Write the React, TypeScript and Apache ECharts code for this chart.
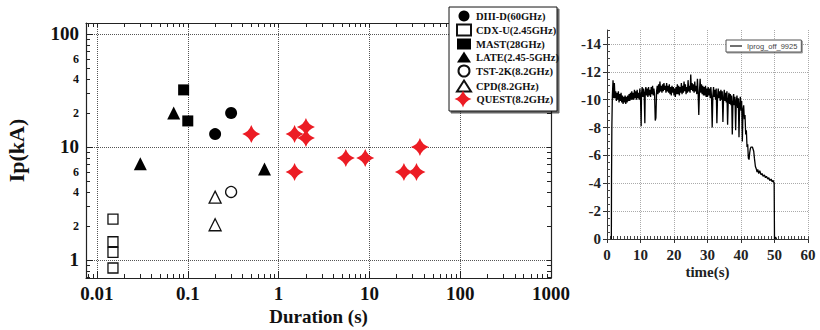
import React, { useEffect, useRef } from 'react';
import * as echarts from 'echarts';

const SERIF = "'Liberation Serif', 'Times New Roman', serif";
const SANS = "'Liberation Sans', Arial, sans-serif";

// ---------- Left chart data (Duration s, Ip kA) ----------
const diiidPoints = [[0.2, 13], [0.3, 20]];
const cdxuPoints = [[0.015, 2.3], [0.015, 1.45], [0.015, 1.17], [0.015, 0.85]];
const mastPoints = [[0.09, 32], [0.1, 17]];
const latePoints = [[0.03, 7.1], [0.07, 20], [0.7, 6.4]];
const tst2kPoints = [[0.3, 4]];
const cpdPoints = [[0.2, 3.6], [0.2, 2.05]];
const questPoints = [[0.5, 13], [1.5, 13], [1.5, 6], [2, 15], [2, 12], [5.5, 8], [9, 8], [24, 6], [33, 6], [36, 10]];

const durTickValues = [0.01, 0.1, 1, 10, 100, 1000];
const durTickLabels = ['0.01', '0.1', '1', '10', '100', '1000'];
const ipTickValues = [1, 2, 4, 6, 10, 20, 40, 60, 100];
const ipTickLabels = ['1', '2', '4', '6', '10', '2', '4', '6', '100'];
const ipBigLabels = ['1', '10', '100'];

// ---------- Right chart data (time s, Iprog) ----------
const timeTicks = [0, 10, 20, 30, 40, 50, 60];
const iprogTicks = [-14, -12, -10, -8, -6, -4, -2, 0];
const iprogTrace = [
  [1.3, 0], [1.35, -4.3], [1.45, -8], [1.6, -10.3], [1.8, -11.4], [2.0, -10.1], [2.2, -11.2], [2.4, -10.1],
  [2.6, -10.6], [2.8, -9.9], [3.0, -10.5], [3.2, -10.0], [3.4, -10.6], [3.6, -9.8], [3.8, -10.4], [4.0, -9.9],
  [4.2, -10.5], [4.4, -9.8], [4.6, -10.3], [4.8, -9.7], [5.0, -10.2], [5.2, -9.8], [5.4, -10.3], [5.6, -9.7],
  [5.8, -10.2], [6.0, -9.8], [6.2, -10.3], [6.4, -9.9], [6.6, -10.4], [6.8, -9.9], [7.0, -10.5], [7.2, -10.0],
  [7.4, -10.6], [7.6, -10.0], [7.8, -10.5], [8.0, -10.0], [8.2, -10.7], [8.4, -10.1], [8.6, -10.6], [8.8, -10.0],
  [9.0, -10.7], [9.2, -10.1], [9.4, -10.5], [9.6, -10.0], [9.8, -10.8], [10.0, -10.2], [10.2, -8.1], [10.3, -10.4],
  [10.5, -10.9], [10.7, -10.2], [10.9, -10.8], [11.1, -10.3], [11.3, -8.3], [11.4, -10.5], [11.6, -10.9], [11.8, -10.3],
  [12.0, -10.8], [12.2, -10.2], [12.4, -10.9], [12.6, -10.3], [12.8, -10.7], [13.0, -10.2], [13.2, -10.9], [13.4, -10.4],
  [13.6, -11.0], [13.8, -10.3], [14.0, -10.8], [14.2, -10.4], [14.4, -8.5], [14.6, -8.7], [14.8, -10.6], [15.0, -11.0],
  [15.2, -10.4], [15.4, -11.1], [15.6, -10.5], [15.8, -11.3], [16.0, -10.6], [16.2, -11.0], [16.4, -10.5], [16.6, -11.1],
  [16.8, -10.6], [17.0, -11.2], [17.2, -10.7], [17.4, -11.0], [17.6, -10.5], [17.8, -11.2], [18.0, -10.6], [18.2, -11.0],
  [18.4, -10.5], [18.6, -11.1], [18.8, -10.4], [19.0, -10.9], [19.2, -10.3], [19.4, -11.0], [19.6, -10.5], [19.8, -10.9],
  [20.0, -10.3], [20.2, -10.8], [20.4, -10.2], [20.6, -10.9], [20.8, -10.4], [21.0, -11.1], [21.2, -10.4], [21.4, -11.0],
  [21.6, -10.3], [21.8, -10.9], [22.0, -10.5], [22.2, -11.2], [22.4, -10.4], [22.6, -11.0], [22.8, -10.5], [23.0, -11.3],
  [23.2, -10.6], [23.4, -11.1], [23.6, -10.4], [23.8, -10.9], [24.0, -10.5], [24.2, -11.4], [24.4, -10.6], [24.6, -11.0],
  [24.8, -10.5], [25.0, -11.8], [25.2, -10.7], [25.4, -11.2], [25.6, -10.6], [25.8, -11.1], [26.0, -10.5], [26.2, -11.3],
  [26.4, -10.6], [26.6, -11.0], [26.8, -10.4], [27.0, -11.5], [27.2, -10.5], [27.4, -8.9], [27.6, -10.6], [27.8, -11.5],
  [28.0, -10.5], [28.2, -11.1], [28.4, -10.4], [28.6, -11.0], [28.8, -10.3], [29.0, -10.9], [29.2, -10.3], [29.4, -11.0],
  [29.6, -10.2], [29.8, -10.8], [30.0, -10.2], [30.2, -10.9], [30.4, -10.3], [30.6, -10.8], [30.8, -10.1], [31.0, -10.9],
  [31.2, -10.2], [31.4, -8.0], [31.6, -10.3], [31.8, -10.9], [32.0, -10.2], [32.2, -10.7], [32.4, -10.0], [32.6, -10.8],
  [32.8, -8.3], [33.0, -10.2], [33.2, -10.8], [33.4, -10.1], [33.6, -10.6], [33.8, -9.9], [34.0, -10.7], [34.2, -10.0],
  [34.4, -10.6], [34.6, -8.4], [34.8, -10.1], [35.0, -10.7], [35.2, -9.9], [35.4, -10.5], [35.6, -9.8], [35.8, -10.6],
  [36.0, -8.2], [36.2, -10.0], [36.4, -10.5], [36.6, -9.7], [36.8, -10.4], [37.0, -9.6], [37.2, -10.3], [37.4, -7.5],
  [37.6, -9.8], [37.8, -10.4], [38.0, -9.6], [38.2, -10.2], [38.4, -7.8], [38.6, -9.9], [38.8, -10.3], [39.0, -9.4],
  [39.2, -10.1], [39.4, -7.3], [39.6, -9.7], [39.8, -10.2], [40.0, -9.2], [40.2, -9.9], [40.4, -7.0], [40.6, -9.3],
  [40.8, -9.6], [41.0, -8.6], [41.2, -8.9], [41.4, -7.5], [41.6, -7.8], [41.8, -6.6], [42.0, -6.8], [42.2, -5.8],
  [42.4, -5.7], [42.6, -6.2], [42.8, -6.5], [43.0, -6.6], [43.4, -6.6], [43.8, -6.3], [44.0, -5.8], [44.3, -5.2],
  [44.6, -5.0], [44.8, -4.8], [45.0, -5.0], [45.3, -4.7], [45.6, -4.9], [46.0, -4.6], [46.3, -4.7], [46.6, -4.5],
  [47.0, -4.6], [47.3, -4.4], [47.6, -4.5], [48.0, -4.3], [48.3, -4.4], [48.6, -4.2], [49.0, -4.3], [49.3, -4.1],
  [49.6, -4.2], [49.9, -4.0], [50.0, 0], [50.3, -0.15], [50.6, 0],
];

const X_MIN = 0.00757;
const X_MAX = 1000;
const Y_MIN = 0.693;
const Y_MAX = 125;

function logMinors(lo: number, hi: number) {
  const out: number[] = [];
  for (let e = -4; e <= 4; e++) {
    for (let m = 1; m <= 9; m++) {
      const v = m * Math.pow(10, e);
      if (v >= lo && v <= hi) out.push(v);
    }
  }
  return out;
}

function nearestIndex(vals: number[], v: number) {
  let best = 0;
  let bd = Infinity;
  vals.forEach((t, i) => {
    const d = Math.abs(Math.log10(t) - Math.log10(v));
    if (d < bd) { bd = d; best = i; }
  });
  return best;
}

const STAR = 'path://M0,-10 Q2.5,-2.5 10,0 Q2.5,2.5 0,10 Q-2.5,2.5 -10,0 Q-2.5,-2.5 0,-10 Z';

export default function App() {
  const ref = useRef<HTMLDivElement>(null);
  useEffect(() => {
    if (!ref.current) return;
    const chart = echarts.init(ref.current, undefined, { renderer: 'svg' });
    const xMinor = logMinors(X_MIN, X_MAX);
    const yMinor = logMinors(Y_MIN, Y_MAX);
    const frame = { show: true, onZero: false, lineStyle: { color: '#222', width: 1.2 } };
    const noLine = { show: false, onZero: false };
    const grid = { type: 'dotted', color: '#555', width: 1 };
    const tMinor: number[] = [];
    for (let t = 0; t <= 60; t += 1) tMinor.push(t);
    const iMinor: number[] = [];
    for (let v = -15; v <= 0; v += 0.5) iMinor.push(v);

    const legendText = { fontFamily: SERIF, fontWeight: 'bold', fontSize: 10.5, color: '#111' };
    const legendNames = ['DIII-D(60GHz)', 'CDX-U(2.45GHz)', 'MAST(28GHz)', 'LATE(2.45-5GHz)', 'TST-2K(8.2GHz)', 'CPD(8.2GHz)'];
    const solid = (c: string) => ({ color: c, opacity: 1 });
    const hollow = { color: '#fff', borderColor: '#111', borderWidth: 1.3, opacity: 1 };

    const option: any = {
      animation: false,
      backgroundColor: '#fff',
      grid: [
        { left: 86, top: 23, width: 465, height: 255, outerBoundsMode: 'none', containLabel: false },
        { left: 607, top: 30, width: 201, height: 209, outerBoundsMode: 'none', containLabel: false },
      ],
      xAxis: [
        {
          gridIndex: 0, type: 'log', min: X_MIN, max: X_MAX, position: 'bottom',
          axisLine: frame,
          axisTick: { inside: true, length: 7, lineStyle: { color: '#222' } },
          axisLabel: {
            customValues: durTickValues,
            formatter: (v: number) => durTickLabels[nearestIndex(durTickValues, v)],
            fontFamily: SERIF, fontWeight: 'bold', fontSize: 19, lineHeight: 17, color: '#111', margin: 7,
          },
          splitLine: { show: true, lineStyle: grid },
          name: 'Duration (s)', nameLocation: 'middle', nameGap: 29, nameMoveOverlap: false,
          nameTextStyle: { fontFamily: SERIF, fontWeight: 'bold', fontSize: 19, color: '#111', lineHeight: 19 },
        },
        {
          gridIndex: 0, type: 'log', min: X_MIN, max: X_MAX, position: 'bottom',
          axisLine: noLine,
          axisTick: { customValues: xMinor, inside: true, length: 4, lineStyle: { color: '#222' } },
          axisLabel: { show: false }, splitLine: { show: false },
        },
        {
          gridIndex: 0, type: 'log', min: X_MIN, max: X_MAX, position: 'top',
          axisLine: frame,
          axisTick: { customValues: xMinor, inside: true, length: 4, lineStyle: { color: '#222' } },
          axisLabel: { show: false }, splitLine: { show: false },
        },
        {
          gridIndex: 1, type: 'value', min: 0, max: 60, interval: 10, position: 'bottom',
          axisLine: { show: true, onZero: false, lineStyle: { color: '#333', width: 1 } },
          axisTick: { inside: false, length: 4, lineStyle: { color: '#333' } },
          axisLabel: {
            customValues: timeTicks,
            fontFamily: SERIF, fontWeight: 'bold', fontSize: 15, color: '#222', margin: 8,
          },
          splitLine: { show: true, lineStyle: { type: 'dotted', color: '#aaa', width: 1 } },
          name: 'time(s)', nameLocation: 'middle', nameGap: 25, nameMoveOverlap: false,
          nameTextStyle: { fontFamily: SERIF, fontWeight: 'bold', fontSize: 15, color: '#222' },
        },
        {
          gridIndex: 1, type: 'value', min: 0, max: 60, position: 'bottom',
          axisLine: noLine,
          axisTick: { customValues: tMinor, inside: true, length: 3, lineStyle: { color: '#444' } },
          axisLabel: { show: false }, splitLine: { show: false },
        },
      ],
      yAxis: [
        {
          gridIndex: 0, type: 'log', min: Y_MIN, max: Y_MAX, position: 'left',
          axisLine: frame,
          axisTick: { inside: true, length: 7, lineStyle: { color: '#222' } },
          axisLabel: {
            customValues: ipTickValues,
            formatter: (v: number) => {
              const lab = ipTickLabels[nearestIndex(ipTickValues, v)];
              const isDecade = Math.abs(Math.log10(v) - Math.round(Math.log10(v))) < 0.01;
              return ipBigLabels.includes(lab) && isDecade ? `{b|${lab}}` : `{s|${lab}}`;
            },
            margin: 7,
            rich: {
              b: { fontFamily: SERIF, fontWeight: 'bold', fontSize: 19, color: '#111' },
              s: { fontFamily: SERIF, fontWeight: 'bold', fontSize: 12, color: '#111' },
            },
          },
          splitLine: { show: true, lineStyle: grid },
          name: 'Ip(kA)', nameLocation: 'middle', nameGap: 59, nameMoveOverlap: false,
          nameTextStyle: { fontFamily: SERIF, fontWeight: 'bold', fontSize: 22, color: '#111' },
        },
        {
          gridIndex: 0, type: 'log', min: Y_MIN, max: Y_MAX, position: 'left',
          axisLine: noLine,
          axisTick: { customValues: yMinor, inside: true, length: 4, lineStyle: { color: '#222' } },
          axisLabel: { show: false }, splitLine: { show: false },
        },
        {
          gridIndex: 0, type: 'log', min: Y_MIN, max: Y_MAX, position: 'right',
          axisLine: frame,
          axisTick: { customValues: yMinor, inside: true, length: 4, lineStyle: { color: '#222' } },
          axisLabel: { show: false }, splitLine: { show: false },
        },
        {
          gridIndex: 1, type: 'value', min: -15, max: 0, inverse: true, splitNumber: 7, position: 'left',
          axisLine: { show: true, onZero: false, lineStyle: { color: '#333', width: 1 } },
          axisTick: { customValues: iprogTicks, inside: false, length: 4, lineStyle: { color: '#333' } },
          axisLabel: {
            customValues: iprogTicks,
            fontFamily: SERIF, fontWeight: 'bold', fontSize: 15, color: '#222', margin: 6,
          },
          splitLine: { show: true, lineStyle: { type: 'dotted', color: '#aaa', width: 1 } },
        },
        {
          gridIndex: 1, type: 'value', min: -15, max: 0, inverse: true, position: 'left',
          axisLine: noLine,
          axisTick: { customValues: iMinor, inside: true, length: 3, lineStyle: { color: '#444' } },
          axisLabel: { show: false }, splitLine: { show: false },
        },
      ],
      legend: [
        {
          left: 456, top: 10.5, orient: 'vertical', padding: 0, z: 20,
          itemWidth: 14, itemHeight: 11, itemGap: 2,
          data: legendNames, textStyle: legendText,
        },
        {
          left: 454.5, top: 90.5, orient: 'vertical', padding: 0, z: 20,
          itemWidth: 17, itemHeight: 17,
          data: ['QUEST(8.2GHz)'], textStyle: legendText,
        },
        {
          left: 726, top: 40, padding: [2, 4], z: 20,
          itemWidth: 12, itemHeight: 1.2, symbolKeepAspect: false,
          data: [{ name: 'Iprog_off_9925', icon: 'rect' }],
          backgroundColor: '#fff', borderColor: '#555', borderWidth: 1,
          shadowColor: 'rgba(0,0,0,0.4)', shadowOffsetX: 1, shadowOffsetY: 1, shadowBlur: 0,
          textStyle: { fontFamily: SANS, fontSize: 7.5, color: '#444' },
        },
      ],
      graphic: [
        {
          type: 'rect', z: 10,
          shape: { x: 449, y: 7, width: 108, height: 104 },
          style: {
            fill: '#fff', stroke: '#111', lineWidth: 1,
            shadowColor: 'rgba(0,0,0,0.6)', shadowOffsetX: 2, shadowOffsetY: 2, shadowBlur: 0,
          },
        },
      ],
      series: [
        {
          name: 'DIII-D(60GHz)', type: 'scatter', xAxisIndex: 0, yAxisIndex: 0,
          symbol: 'circle', symbolSize: 12, data: diiidPoints, itemStyle: solid('#000'),
        },
        {
          name: 'CDX-U(2.45GHz)', type: 'scatter', xAxisIndex: 0, yAxisIndex: 0,
          symbol: 'rect', symbolSize: 10, data: cdxuPoints, itemStyle: hollow,
        },
        {
          name: 'MAST(28GHz)', type: 'scatter', xAxisIndex: 0, yAxisIndex: 0,
          symbol: 'rect', symbolSize: 11, data: mastPoints, itemStyle: solid('#000'),
        },
        {
          name: 'LATE(2.45-5GHz)', type: 'scatter', xAxisIndex: 0, yAxisIndex: 0,
          symbol: 'triangle', symbolSize: 13, data: latePoints, itemStyle: solid('#000'),
        },
        {
          name: 'TST-2K(8.2GHz)', type: 'scatter', xAxisIndex: 0, yAxisIndex: 0,
          symbol: 'circle', symbolSize: 11, data: tst2kPoints, itemStyle: hollow,
        },
        {
          name: 'CPD(8.2GHz)', type: 'scatter', xAxisIndex: 0, yAxisIndex: 0,
          symbol: 'triangle', symbolSize: 12, data: cpdPoints, itemStyle: hollow,
        },
        {
          name: 'QUEST(8.2GHz)', type: 'scatter', xAxisIndex: 0, yAxisIndex: 0,
          symbol: STAR, symbolSize: 18, data: questPoints, itemStyle: solid('#ec1c24'),
        },
        {
          name: 'Iprog_off_9925', type: 'line', xAxisIndex: 3, yAxisIndex: 3,
          symbol: 'none', data: iprogTrace, lineStyle: { color: '#000', width: 1.3 },
          itemStyle: { color: '#111' },
        },
      ],
    };
    chart.setOption(option);
    return () => chart.dispose();
  }, []);
  return (
    <div
      ref={ref}
      style={{ position: 'absolute', left: 0, top: 0, width: 820, height: 330, background: '#fff' }}
    />
  );
}
